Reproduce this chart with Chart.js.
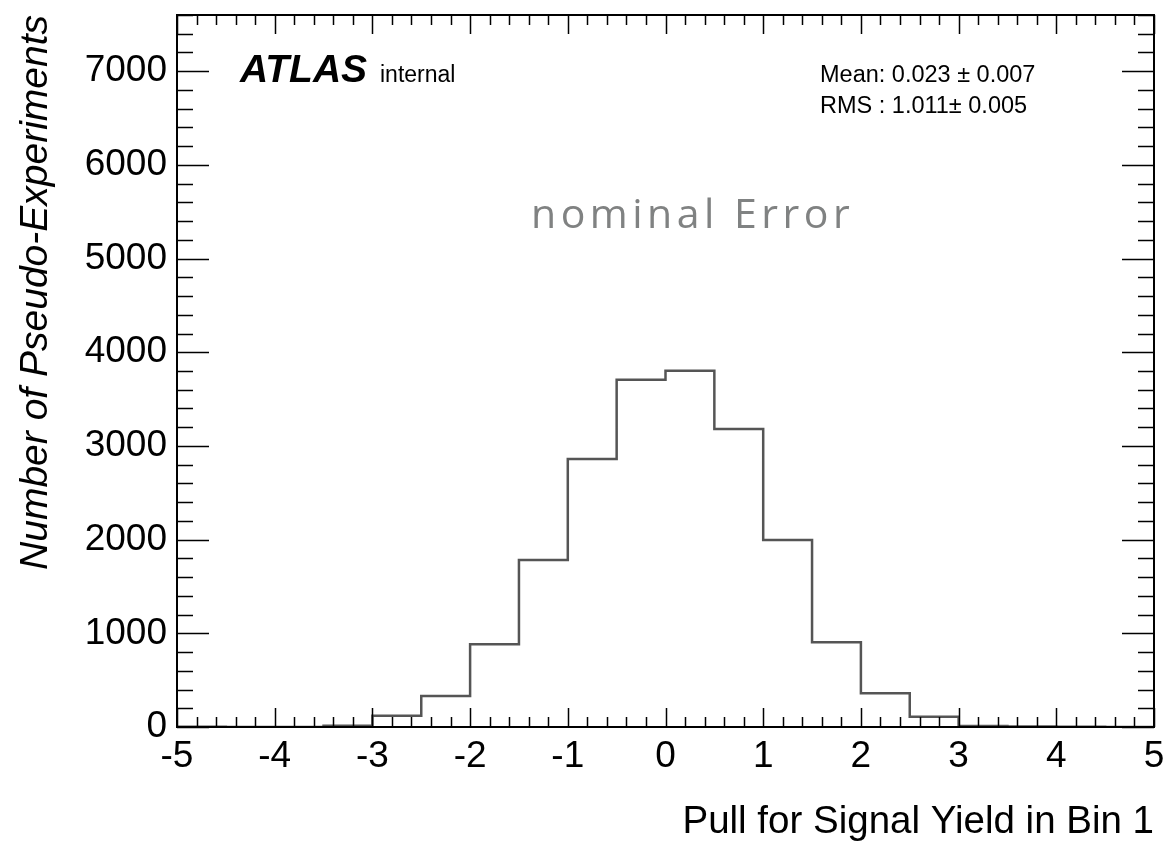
<!DOCTYPE html>
<html>
<head>
<meta charset="utf-8">
<script src="https://cdn.jsdelivr.net/npm/chart.js@4.4.1/dist/chart.umd.min.js"></script>
<style>
  html, body { margin: 0; padding: 0; background: #fff; }
  #wrap { width: 1168px; height: 843px; }
</style>
</head>
<body>
<div id="wrap"><canvas id="pullChart"></canvas></div>
<script>
// Histogramme des pulls : 20 bins de largeur 0.5 entre -5 et 5
const binEdges = [-5, -4.5, -4, -3.5, -3, -2.5, -2, -1.5, -1, -0.5, 0, 0.5, 1, 1.5, 2, 2.5, 3, 3.5, 4, 4.5, 5];
const binCounts = [3, 0, 0, 13, 120, 331, 884, 1782, 2860, 3707, 3803, 3180, 1996, 904, 360, 110, 12, 5, 2, 0];
const xTickLabels = [-5, -4, -3, -2, -1, 0, 1, 2, 3, 4, 5];
const yTickLabels = [0, 1000, 2000, 3000, 4000, 5000, 6000, 7000];

const FONT = "'Liberation Sans', Arial, Helvetica, sans-serif";

// points en bord gauche de chaque bin + bord droit final
const histPoints = binCounts.map((c, i) => ({ x: binEdges[i], y: c }));
histPoints.push({ x: binEdges[binEdges.length - 1], y: binCounts[binCounts.length - 1] });

// ─── Cadre + ticks internes facon ROOT ───
const rootFrame = {
  id: 'rootFrame',
  afterDatasetsDraw(chart) {
    const { ctx, chartArea: a, scales: { x, y } } = chart;
    ctx.save();
    ctx.strokeStyle = '#000';
    ctx.lineWidth = 1.5;
    ctx.beginPath();
    // x : majeur tous les 1, mineur tous les 0.2
    for (let i = 0; i <= 50; i++) {
      const v = -5 + i * 0.2;
      const px = Math.round(x.getPixelForValue(v)) + 0.5;
      const len = i % 5 === 0 ? 19 : 10;
      ctx.moveTo(px, a.bottom); ctx.lineTo(px, a.bottom - len);
      ctx.moveTo(px, a.top); ctx.lineTo(px, a.top + len);
    }
    // y : majeur tous les 1000, mineur tous les 200
    for (let v = 0; v <= y.max; v += 200) {
      const py = Math.round(y.getPixelForValue(v)) + 0.5;
      const len = v % 1000 === 0 ? 32 : 16;
      ctx.moveTo(a.left, py); ctx.lineTo(a.left + len, py);
      ctx.moveTo(a.right, py); ctx.lineTo(a.right - len, py);
    }
    ctx.stroke();
    ctx.lineWidth = 2;
    ctx.strokeRect(a.left, a.top, a.right - a.left, a.bottom - a.top);
    ctx.restore();
  },
  afterDraw(chart) {
    const { ctx } = chart;
    ctx.save();
    ctx.textBaseline = 'alphabetic';
    ctx.fillStyle = '#000';
    ctx.font = `italic bold 39px ${FONT}`;
    ctx.fillText('ATLAS', 240, 82);
    ctx.font = `23px ${FONT}`;
    ctx.fillText('internal', 380, 82);
    ctx.font = `23.5px ${FONT}`;
    ctx.fillText('Mean: 0.023 \u00b1 0.007', 820, 82);
    ctx.fillText('RMS : 1.011\u00b1 0.005', 820, 113);
    ctx.fillStyle = '#808282';
    ctx.font = "41px 'Open Sans', sans-serif";
    ctx.letterSpacing = '4.5px';
    ctx.fillText('nominal Error', 531, 228);
    ctx.restore();
  }
};

// pas de marge auto autour des labels : zone du graphe fixee par le layout
const noPad = s => { s.paddingTop = 0; s.paddingBottom = 0; s.paddingLeft = 0; s.paddingRight = 0; };

new Chart(document.getElementById('pullChart'), {
  type: 'line',
  data: {
    datasets: [{
      data: histPoints,
      stepped: 'before',
      borderColor: '#555555',
      borderWidth: 2.5,
      pointRadius: 0,
      fill: false,
    }],
  },
  options: {
    responsive: true,
    maintainAspectRatio: false,
    animation: false,
    layout: { padding: { top: 15, right: 14, left: 0, bottom: 0 } },
    plugins: { legend: { display: false }, tooltip: { enabled: false } },
    scales: {
      x: {
        type: 'linear',
        min: -5,
        max: 5,
        afterFit: s => { s.height = 116; noPad(s); },
        afterBuildTicks: s => { s.ticks = xTickLabels.map(v => ({ value: v })); },
        grid: { display: false, drawTicks: false },
        border: { display: false },
        ticks: { color: '#000', font: { family: FONT, size: 37 }, padding: 8, maxRotation: 0 },
        title: {
          display: true,
          text: 'Pull for Signal Yield in Bin 1',
          align: 'end',
          color: '#000',
          font: { family: FONT, size: 38.5, lineHeight: 1 },
          padding: { top: 0, bottom: 1 },
        },
      },
      y: {
        min: 0,
        max: 7600,
        afterFit: s => { s.width = 177; noPad(s); },
        afterBuildTicks: s => { s.ticks = yTickLabels.map(v => ({ value: v })); },
        grid: { display: false, drawTicks: false },
        border: { display: false },
        ticks: {
          color: '#000',
          font: { family: FONT, size: 37 },
          padding: 10,
          callback: v => String(v),
        },
        title: {
          display: true,
          text: 'Number of Pseudo-Experiments',
          align: 'end',
          color: '#000',
          font: { family: FONT, size: 39, style: 'italic' },
          padding: { top: 13, bottom: 0 },
        },
      },
    },
  },
  plugins: [rootFrame],
});
</script>
</body>
</html>
